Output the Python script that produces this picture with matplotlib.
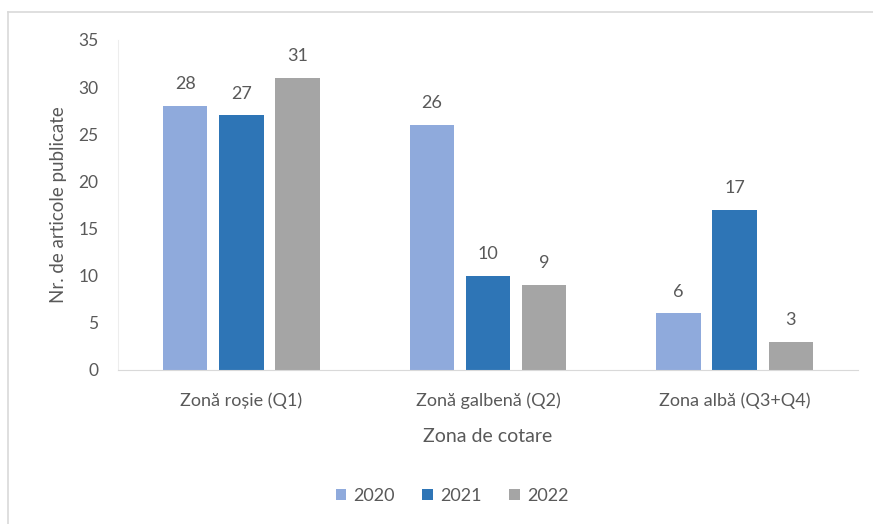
import matplotlib.pyplot as plt
import numpy as np
from matplotlib.lines import Line2D

plt.rcParams['font.family'] = ['Lato', 'DejaVu Sans']

categories = ['Zonă roșie (Q1)', 'Zonă galbenă (Q2)', 'Zona albă (Q3+Q4)']
years = ['2020', '2021', '2022']
v2020 = [28, 26, 6]
v2021 = [27, 10, 17]
v2022 = [31, 9, 3]
colors = ['#8FAADC', '#2E75B6', '#A5A5A5']
grey = '#595959'

fig = plt.figure(figsize=(8.73, 5.24), dpi=100)
ax = fig.add_axes([118/873, 1-370/524, (858-118)/873, 330/524])

x = np.arange(len(categories))
w = 0.18
step = 0.228
for i, (vals, c) in enumerate(zip([v2020, v2021, v2022], colors)):
    bars = ax.bar(x + (i-1)*step, vals, w, color=c, label=years[i])
    ax.bar_label(bars, padding=10, fontsize=13, color=grey)

ax.set_xlim(-0.5, 2.5)
ax.set_ylim(0, 35)
ax.set_yticks(range(0, 36, 5))
ax.set_xticks(x)
ax.set_xticklabels(categories, fontsize=13, color=grey)
ax.tick_params(axis='y', labelsize=12.5, labelcolor=grey, length=0, pad=14)
ax.tick_params(axis='x', length=0, pad=16)
for s in ['top', 'right']:
    ax.spines[s].set_visible(False)
ax.spines['bottom'].set_color('#D9D9D9')
ax.spines['left'].set_color('#EDEDED')
ax.set_ylabel('Nr. de articole publicate', fontsize=13.5, color=grey, labelpad=8)
ax.set_xlabel('Zona de cotare', fontsize=14, color=grey, labelpad=14)

leg = ax.legend(loc='center', bbox_to_anchor=(452/873, 1-496/524),
                bbox_transform=fig.transFigure, ncol=3, frameon=False,
                fontsize=13, handlelength=0.6, handleheight=0.6,
                handletextpad=0.4, columnspacing=1.5)
for t in leg.get_texts():
    t.set_color(grey)

# outer chart border (top and left visible)
fig.add_artist(Line2D([8/873, 1], [1-12/524, 1-12/524], transform=fig.transFigure,
                      color='#D9D9D9', lw=1.2))
fig.add_artist(Line2D([8/873, 8/873], [0, 1-12/524], transform=fig.transFigure,
                      color='#D9D9D9', lw=1.2))

fig.savefig('out.png', dpi=100)
